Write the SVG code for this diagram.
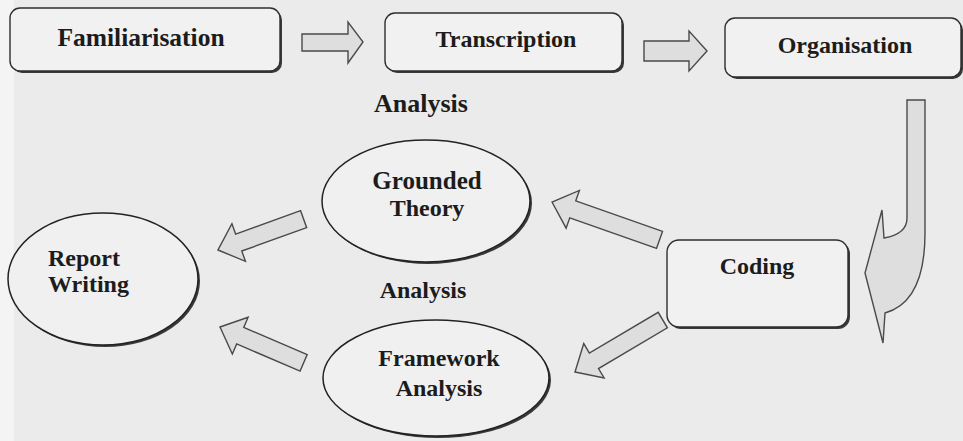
<svg xmlns="http://www.w3.org/2000/svg" width="963" height="441" viewBox="0 0 963 441">
  <defs>
    <style>
      .bg { fill: #ebebeb; }
      .shadow { fill: #3a3a3a; }
      .box { fill: #f1f1f1; stroke: #2e2e2e; stroke-width: 1.4; }
      .oval { fill: #f0f0f0; stroke: #222; stroke-width: 1.5; }
      .label { font-family: "Liberation Serif", "Times New Roman", serif; font-weight: bold; font-size: 24px; fill: #1c1c1c; }
      .mid { text-anchor: middle; }
      .blk { fill: #dedede; stroke: #4a4a4a; stroke-width: 1.4; stroke-linejoin: miter; }
    </style>
  </defs>

  <!-- page -->
  <rect class="bg" x="0" y="0" width="963" height="441"/>
  <rect x="0" y="0" width="14" height="441" fill="#f4f4f4"/>

  <!-- connectors: block arrows -->
  <g id="connectors">
    <!-- Familiarisation to Transcription -->
    <path class="blk" d="M302,34 L348,34 L348,22 L363,42 L348,63 L348,51 L302,51 Z"/>
    <!-- Transcription to Organisation -->
    <path class="blk" d="M644,41 L689,41 L689,31 L707,51 L689,71 L689,61 L644,61 Z"/>
    <!-- Organisation down and round to Coding -->
    <path class="blk" d="M907,100 L925,100 L925,233 Q925,302 885,313 L883,343 L865,273 L882,210 L884,238 Q907,234 907,218 Z"/>
    <!-- Coding to Grounded Theory -->
    <path class="blk" transform="translate(552,202) rotate(199.4)" d="M0,0 L-22,-20 L-22,-9 L-114,-9 L-114,9 L-22,9 L-22,20 Z"/>
    <!-- Coding to Framework Analysis -->
    <path class="blk" transform="translate(575,372) rotate(149.4)" d="M0,0 L-22,-20 L-22,-9 L-102,-9 L-102,9 L-22,9 L-22,20 Z"/>
    <!-- Grounded Theory to Report Writing -->
    <path class="blk" transform="translate(218,250) rotate(160.2)" d="M0,0 L-22,-20 L-22,-9 L-91,-9 L-91,9 L-22,9 L-22,20 Z"/>
    <!-- Framework Analysis to Report Writing -->
    <path class="blk" transform="translate(220,327) rotate(203.2)" d="M0,0 L-22,-20 L-22,-9 L-91,-9 L-91,9 L-22,9 L-22,20 Z"/>
  </g>

  <g id="familiarisation">
    <rect class="shadow" x="12" y="10" width="270" height="63" rx="10"/>
    <rect class="box" x="10" y="8" width="270" height="63" rx="10"/>
    <text class="label mid" x="141" y="46" style="font-size:25.5px">Familiarisation</text>
  </g>

  <g id="transcription">
    <rect class="shadow" x="387" y="15" width="237" height="58" rx="10"/>
    <rect class="box" x="385" y="13" width="237" height="58" rx="10"/>
    <text class="label mid" x="506" y="47">Transcription</text>
  </g>

  <g id="organisation">
    <rect class="shadow" x="727" y="20" width="236" height="59" rx="10"/>
    <rect class="box" x="725" y="18" width="236" height="59" rx="10"/>
    <text class="label mid" x="845" y="53">Organisation</text>
  </g>

  <g id="coding">
    <rect class="shadow" x="669" y="242" width="181" height="87" rx="12"/>
    <rect class="box" x="667" y="240" width="181" height="87" rx="12"/>
    <text class="label mid" x="757" y="274">Coding</text>
  </g>

  <g id="analysis-label-1">
    <text class="label mid" x="421" y="112" style="font-size:26px">Analysis</text>
  </g>

  <g id="grounded-theory">
    <ellipse class="shadow" cx="428" cy="203" rx="104" ry="61"/>
    <ellipse class="oval" cx="426" cy="201" rx="104" ry="61"/>
    <text class="label mid" x="427" y="189" style="font-size:25px">Grounded</text>
    <text class="label mid" x="427" y="216">Theory</text>
  </g>

  <g id="analysis-label-2">
    <text class="label mid" x="423" y="298">Analysis</text>
  </g>

  <g id="framework-analysis">
    <ellipse class="shadow" cx="438" cy="380" rx="113" ry="58"/>
    <ellipse class="oval" cx="436" cy="378" rx="113" ry="58"/>
    <text class="label mid" x="439" y="366">Framework</text>
    <text class="label mid" x="439" y="396">Analysis</text>
  </g>

  <g id="report-writing">
    <ellipse class="shadow" cx="105" cy="281" rx="95" ry="66"/>
    <ellipse class="oval" cx="103" cy="279" rx="95" ry="66"/>
    <text class="label" x="48" y="266">Report</text>
    <text class="label" x="48" y="292">Writing</text>
  </g>
</svg>
